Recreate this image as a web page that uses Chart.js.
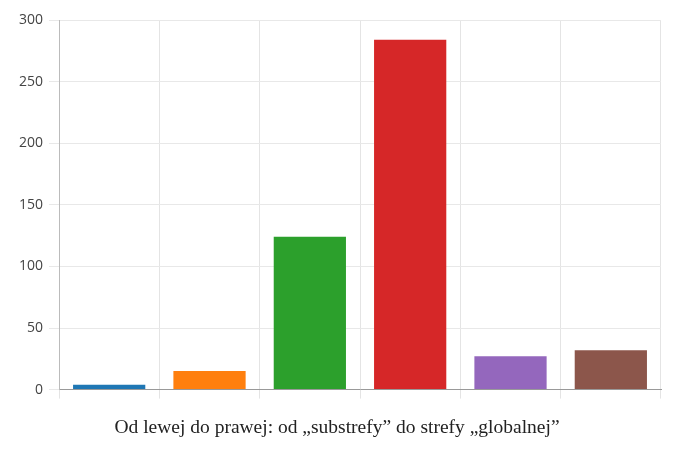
<!DOCTYPE html>
<html>
<head>
<meta charset="utf-8">
<script src="https://cdn.jsdelivr.net/npm/chart.js@4/dist/chart.umd.min.js"></script>
<style>
  html, body { margin: 0; padding: 0; background: #fff; }
  #wrap { width: 676px; height: 449px; }
</style>
</head>
<body>
<div id="wrap"><canvas id="chart" width="676" height="449"></canvas></div>
<script>
const categories = ["1", "2", "3", "4", "5", "6"];
const values = [4, 15, 124, 284, 27, 32];
const barColors = ["#1f77b4", "#ff7f0e", "#2ca02c", "#d62728", "#9467bd", "#8c564b"];
const yTicks = [0, 50, 100, 150, 200, 250, 300];
const caption = "Od lewej do prawej: od „substrefy” do strefy „globalnej”";

const ctx = document.getElementById("chart").getContext("2d");
new Chart(ctx, {
    type: "bar",
    data: {
        labels: categories,
        datasets: [{
            data: values,
            backgroundColor: barColors,
            borderWidth: 0,
        }],
    },
    options: {
        responsive: false,
        animation: false,
        layout: {
            padding: { top: 20, right: 15, left: 13, bottom: 9 },
        },
        plugins: {
            legend: { display: false },
            tooltip: { enabled: false },
            title: {
                display: true,
                position: "bottom",
                text: caption,
                color: "#222",
                font: { family: "'Liberation Serif', 'DejaVu Serif', serif", size: 19.5, weight: "normal" },
                padding: { top: 18, bottom: 0 },
            },
        },
        scales: {
            x: {
                grid: { color: "#e4e4e4", tickLength: 9, offset: true },
                border: { color: "#999" },
                ticks: { display: false },
            },
            y: {
                min: 0,
                max: 300,
                afterBuildTicks: (axis) => {
                    axis.ticks = yTicks.map((v) => ({ value: v }));
                },
                grid: { color: "#e8e8e8", tickLength: 10 },
                border: { color: "#bbb" },
                ticks: {
                    color: "#444",
                    padding: 6,
                    font: { family: "'Open Sans', 'Noto Sans', sans-serif", size: 14 },
                },
            },
        },
    },
});
</script>
</body>
</html>
